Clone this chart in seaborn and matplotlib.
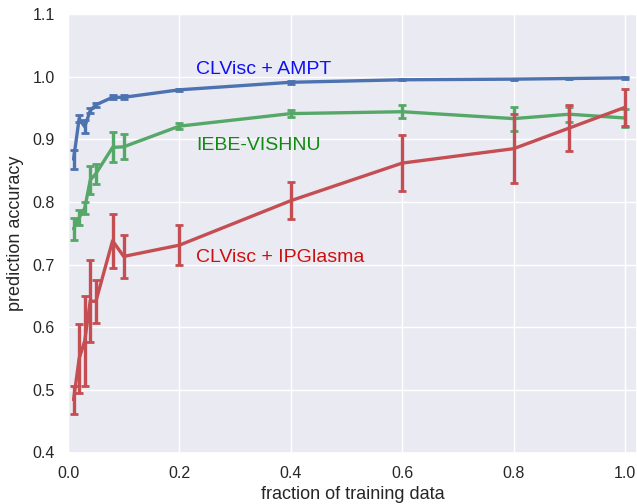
import numpy as np
import pandas as pd
import matplotlib
matplotlib.use("Agg")
import matplotlib.pyplot as plt
import seaborn as sns

fractions = [0.01, 0.02, 0.03, 0.04, 0.05, 0.08, 0.1, 0.2, 0.4, 0.6, 0.8, 0.9, 1.0]

ampt_mean = [0.868, 0.933, 0.920, 0.946, 0.955, 0.967, 0.967, 0.979, 0.991, 0.995, 0.996, 0.997, 0.998]
ampt_err = [0.015, 0.006, 0.010, 0.004, 0.003, 0.003, 0.003, 0.002, 0.002, 0.001, 0.001, 0.001, 0.001]

vishnu_mean = [0.757, 0.775, 0.790, 0.835, 0.845, 0.887, 0.888, 0.921, 0.941, 0.944, 0.933, 0.940, 0.934]
vishnu_err = [0.018, 0.012, 0.010, 0.022, 0.016, 0.024, 0.020, 0.005, 0.006, 0.010, 0.019, 0.012, 0.014]

ipg_mean = [0.484, 0.550, 0.578, 0.642, 0.641, 0.738, 0.713, 0.731, 0.802, 0.862, 0.885, 0.918, 0.951]
ipg_err = [0.022, 0.055, 0.072, 0.066, 0.034, 0.043, 0.035, 0.032, 0.030, 0.045, 0.055, 0.037, 0.030]

labels = ["CLVisc + AMPT", "IEBE-VISHNU", "CLVisc + IPGlasma"]
line_colors = ["#4C72B0", "#55A868", "#C44E52"]
text_colors = ["#1010f0", "#108a10", "#cc1010"]
label_pos = [(0.23, 1.011), (0.23, 0.890), (0.23, 0.711)]

sns.set_theme(style="darkgrid")
plt.rcParams['font.family'] = ['Liberation Sans', 'DejaVu Sans']

fig = plt.figure(figsize=(6.37, 5.04), dpi=100)
ax = fig.add_axes([68 / 637, (504 - 452.5) / 504, (637 - 68) / 637, (452.5 - 14) / 504])

series = [(ampt_mean, ampt_err), (vishnu_mean, vishnu_err), (ipg_mean, ipg_err)]
for (m, e), lab, c, tc, (tx, ty) in zip(series, labels, line_colors, text_colors, label_pos):
    df = pd.DataFrame({"fraction": fractions, "accuracy": m})
    sns.lineplot(data=df, x="fraction", y="accuracy", ax=ax, color=c, lw=2.4)
    ax.errorbar(fractions, m, yerr=e, fmt="none", ecolor=c, elinewidth=2.4,
                capsize=3, capthick=2)
    ax.text(tx, ty, lab, color=tc, fontsize=14, va="center", ha="left")

ax.set_xlim(0, 1.0 + 12 / 557)
ax.set_ylim(0.4, 1.1)
ax.set_xticks([0.0, 0.2, 0.4, 0.6, 0.8, 1.0])
ax.set_yticks([0.4, 0.5, 0.6, 0.7, 0.8, 0.9, 1.0, 1.1])
ax.tick_params(labelsize=11.5, colors=".15")
ax.set_xlabel("fraction of training data", fontsize=13, color=".15", labelpad=4)
ax.set_ylabel("prediction accuracy", fontsize=13, color=".15", labelpad=6)

fig.savefig("out.png", dpi=100)
